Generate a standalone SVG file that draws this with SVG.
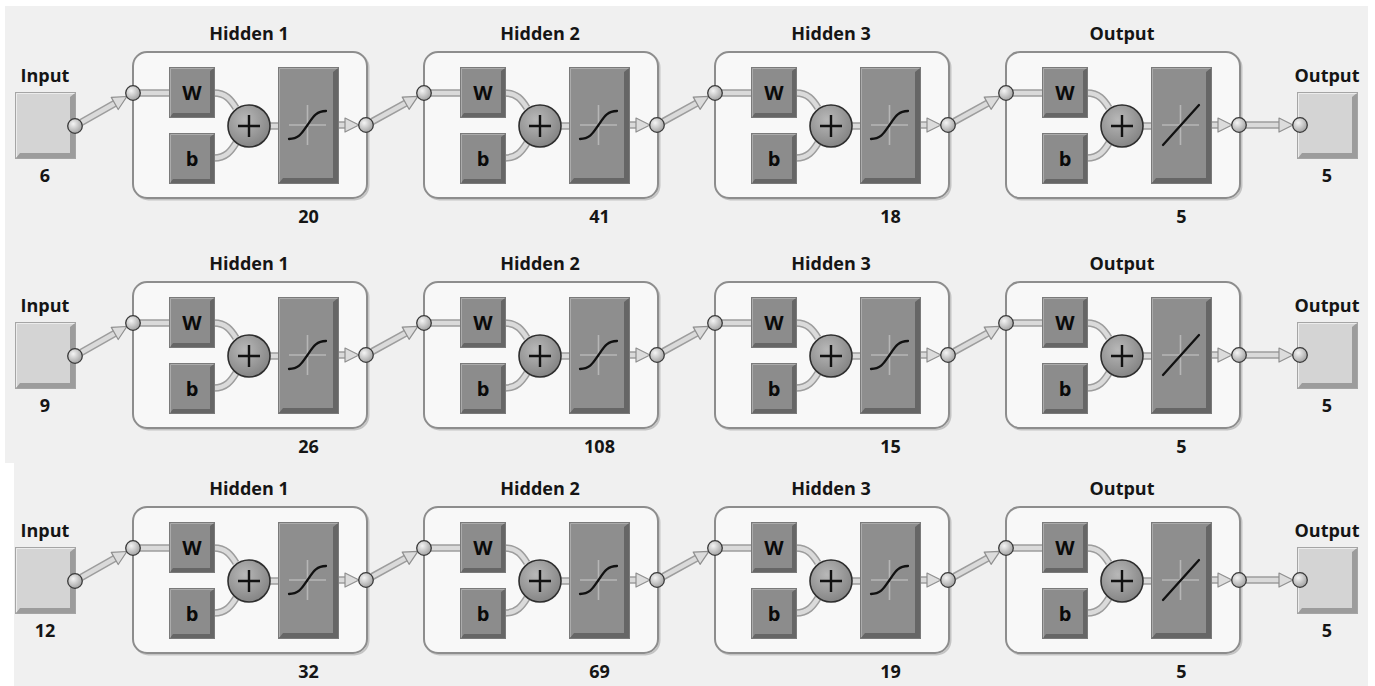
<svg xmlns="http://www.w3.org/2000/svg" width="1375" height="686" viewBox="0 0 1375 686">
<style>
  text{font-family:"Open Sans","Noto Sans","DejaVu Sans",sans-serif;font-weight:700;fill:#151515;text-anchor:middle;font-size:18px}
  .wb{font-size:20px;fill:#0a0a0a}
  .pO{fill:none;stroke:#9d9d9d;stroke-width:7.5}
  .pI{fill:none;stroke:#dadada;stroke-width:4.5}
  .tip{fill:none;stroke:none}
  .cross{stroke:#b6b6b6;stroke-width:1.6}
  .curve{fill:none;stroke:#111;stroke-width:2.3;stroke-linecap:round}
</style>
<defs>
  <radialGradient id="portFill" cx="0.38" cy="0.35" r="0.75">
    <stop offset="0" stop-color="#f4f4f4"/><stop offset="1" stop-color="#999"/>
  </radialGradient>
  <radialGradient id="sumFill" cx="0.4" cy="0.35" r="0.8">
    <stop offset="0" stop-color="#b8b8b8"/><stop offset="1" stop-color="#7a7a7a"/>
  </radialGradient>
  <marker id="ah" markerUnits="userSpaceOnUse" viewBox="0 0 16 16" markerWidth="16" markerHeight="16" refX="15" refY="8" orient="auto">
    <path d="M1,1 L15,8 L1,15 Z" fill="#dcdcdc" stroke="#8f8f8f" stroke-width="1.2" stroke-linejoin="round"/>
  </marker>
  <circle id="port" r="7.3" fill="url(#portFill)" stroke="#3a3a3a" stroke-width="1.3"/>
  <!-- weight / bias block -->
  <g id="wbBox">
    <rect width="44" height="49" fill="#8c8c8c"/>
    <polygon points="44,0 44,49 0,49 3,45 40,45 40,3" fill="#666"/>
    <polyline points="0.5,48.5 0.5,0.5 43.5,0.5" fill="none" stroke="#ababab"/>
    <rect x="-0.5" y="-0.5" width="45" height="50" fill="none" stroke="#7a7a7a"/>
  </g>
  <!-- transfer function block -->
  <g id="tfBox">
    <rect width="59" height="115" fill="#8e8e8e"/>
    <polygon points="59,0 59,115 0,115 4,110 54,110 54,4" fill="#666"/>
    <polyline points="0.5,114 0.5,0.5 58.5,0.5" fill="none" stroke="#ababab"/>
    <rect x="-0.5" y="-0.5" width="60" height="116" fill="none" stroke="#7a7a7a"/>
  </g>
  <!-- input / output terminal -->
  <g id="ioBox">
    <rect width="59" height="65" fill="#d4d4d4"/>
    <polygon points="59,0 59,65 0,65 4,60 54,60 54,4" fill="#9c9c9c"/>
    <polyline points="0.5,64 0.5,0.5 58.5,0.5" fill="none" stroke="#ececec"/>
    <rect x="-0.5" y="-0.5" width="60" height="66" fill="none" stroke="#a5a5a5"/>
  </g>
  <g id="sum">
    <circle r="21" fill="url(#sumFill)" stroke="#2e2e2e" stroke-width="1.6"/>
    <path d="M-11,0 H11 M0,-11 V11" stroke="#111" stroke-width="2.4"/>
  </g>
  <!-- shared layer body: frame, W, b, sum, transfer block and ports -->
  <g id="layerBase">
    <rect x="1.5" y="53.5" width="234" height="146" rx="14" fill="none" stroke="#c4c4c4" stroke-width="2"/>
    <rect x="0" y="52" width="234" height="146" rx="14" fill="#f8f8f8" stroke="#8d8d8d" stroke-width="2"/>
    <path class="pO" d="M0,93 H37 M81,93 C93,93 98,100 103,108 M81,158 C93,158 98,151 103,143 M137,126 H146 M205,125 H218"/>
    <path class="pI" d="M0,93 H37 M81,93 C93,93 98,100 103,108 M81,158 C93,158 98,151 103,143 M137,126 H146 M205,125 H218"/>
    <path class="tip" d="M218,125 H226" marker-end="url(#ah)"/>
    <use href="#wbBox" x="37" y="68"/>
    <use href="#wbBox" x="37" y="134"/>
    <use href="#sum" x="116" y="126"/>
    <use href="#tfBox" x="146" y="68"/>
    <path class="cross" d="M174.5,105 V145 M156,125 H193"/>
    <use href="#port" x="0" y="93"/>
    <use href="#port" x="233" y="125"/>
  </g>
</defs>

<!-- background panels -->
<rect width="1375" height="686" fill="#ffffff"/>
<rect x="5" y="6" width="1363" height="457" fill="#f0f0f0"/>
<rect x="14" y="463" width="1354" height="223" fill="#f0f0f0"/>

<!-- connectors between blocks -->
<g id="connectors">
  <g id="links-row1">
    <path class="pO" d="M81.1,122.5 L119.9,100.5 M372.1,121.6 L410.9,100.3 M663.1,121.6 L701.9,100.3 M954.1,121.6 L992.9,100.3 M1246,125 H1285"/>
    <path class="pI" d="M81.1,122.5 L119.9,100.5 M372.1,121.6 L410.9,100.3 M663.1,121.6 L701.9,100.3 M954.1,121.6 L992.9,100.3 M1246,125 H1285"/>
    <path class="tip" d="M119.9,100.5 L126.9,96.5" marker-end="url(#ah)"/>
    <path class="tip" d="M410.9,100.3 L417.9,96.4" marker-end="url(#ah)"/>
    <path class="tip" d="M701.9,100.3 L708.9,96.4" marker-end="url(#ah)"/>
    <path class="tip" d="M992.9,100.3 L999.9,96.4" marker-end="url(#ah)"/>
    <path class="tip" d="M1285,125 H1293" marker-end="url(#ah)"/>
  </g>
  <g id="links-row2" transform="translate(0,230)">
    <path class="pO" d="M81.1,122.5 L119.9,100.5 M372.1,121.6 L410.9,100.3 M663.1,121.6 L701.9,100.3 M954.1,121.6 L992.9,100.3 M1246,125 H1285"/>
    <path class="pI" d="M81.1,122.5 L119.9,100.5 M372.1,121.6 L410.9,100.3 M663.1,121.6 L701.9,100.3 M954.1,121.6 L992.9,100.3 M1246,125 H1285"/>
    <path class="tip" d="M119.9,100.5 L126.9,96.5" marker-end="url(#ah)"/>
    <path class="tip" d="M410.9,100.3 L417.9,96.4" marker-end="url(#ah)"/>
    <path class="tip" d="M701.9,100.3 L708.9,96.4" marker-end="url(#ah)"/>
    <path class="tip" d="M992.9,100.3 L999.9,96.4" marker-end="url(#ah)"/>
    <path class="tip" d="M1285,125 H1293" marker-end="url(#ah)"/>
  </g>
  <g id="links-row3" transform="translate(0,455)">
    <path class="pO" d="M81.1,122.5 L119.9,100.5 M372.1,121.6 L410.9,100.3 M663.1,121.6 L701.9,100.3 M954.1,121.6 L992.9,100.3 M1246,125 H1285"/>
    <path class="pI" d="M81.1,122.5 L119.9,100.5 M372.1,121.6 L410.9,100.3 M663.1,121.6 L701.9,100.3 M954.1,121.6 L992.9,100.3 M1246,125 H1285"/>
    <path class="tip" d="M119.9,100.5 L126.9,96.5" marker-end="url(#ah)"/>
    <path class="tip" d="M410.9,100.3 L417.9,96.4" marker-end="url(#ah)"/>
    <path class="tip" d="M701.9,100.3 L708.9,96.4" marker-end="url(#ah)"/>
    <path class="tip" d="M992.9,100.3 L999.9,96.4" marker-end="url(#ah)"/>
    <path class="tip" d="M1285,125 H1293" marker-end="url(#ah)"/>
  </g>
</g>

<!-- ===== network 1 ===== -->
<g id="n1-input">
  <text x="45" y="82">Input</text>
  <use href="#ioBox" x="16" y="93"/>
  <use href="#port" x="75" y="126"/>
  <text x="45" y="182">6</text>
</g>
<g id="n1-hidden1" transform="translate(133,0)">
  <use href="#layerBase"/>
  <text x="116" y="40">Hidden 1</text>
  <text class="wb" x="59" y="100">W</text><text class="wb" x="59" y="166">b</text>
  <path class="curve" d="M156,139 C166,139 169,133 174.5,125 S183,111 193,111"/>
  <text x="175.5" y="223">20</text>
</g>
<g id="n1-hidden2" transform="translate(424,0)">
  <use href="#layerBase"/>
  <text x="116" y="40">Hidden 2</text>
  <text class="wb" x="59" y="100">W</text><text class="wb" x="59" y="166">b</text>
  <path class="curve" d="M156,139 C166,139 169,133 174.5,125 S183,111 193,111"/>
  <text x="175.5" y="223">41</text>
</g>
<g id="n1-hidden3" transform="translate(715,0)">
  <use href="#layerBase"/>
  <text x="116" y="40">Hidden 3</text>
  <text class="wb" x="59" y="100">W</text><text class="wb" x="59" y="166">b</text>
  <path class="curve" d="M156,139 C166,139 169,133 174.5,125 S183,111 193,111"/>
  <text x="175.5" y="223">18</text>
</g>
<g id="n1-outlayer" transform="translate(1006,0)">
  <use href="#layerBase"/>
  <text x="116" y="40">Output</text>
  <text class="wb" x="59" y="100">W</text><text class="wb" x="59" y="166">b</text>
  <path class="curve" d="M157,145 L193,105"/>
  <text x="175.5" y="223">5</text>
</g>
<g id="n1-output">
  <text x="1327" y="82">Output</text>
  <use href="#ioBox" x="1298" y="93"/>
  <use href="#port" x="1300" y="125"/>
  <text x="1327" y="182">5</text>
</g>

<!-- ===== network 2 ===== -->
<g id="n2-input" transform="translate(0,230)">
  <text x="45" y="82">Input</text>
  <use href="#ioBox" x="16" y="93"/>
  <use href="#port" x="75" y="126"/>
  <text x="45" y="182">9</text>
</g>
<g id="n2-hidden1" transform="translate(133,230)">
  <use href="#layerBase"/>
  <text x="116" y="40">Hidden 1</text>
  <text class="wb" x="59" y="100">W</text><text class="wb" x="59" y="166">b</text>
  <path class="curve" d="M156,139 C166,139 169,133 174.5,125 S183,111 193,111"/>
  <text x="175.5" y="223">26</text>
</g>
<g id="n2-hidden2" transform="translate(424,230)">
  <use href="#layerBase"/>
  <text x="116" y="40">Hidden 2</text>
  <text class="wb" x="59" y="100">W</text><text class="wb" x="59" y="166">b</text>
  <path class="curve" d="M156,139 C166,139 169,133 174.5,125 S183,111 193,111"/>
  <text x="175.5" y="223">108</text>
</g>
<g id="n2-hidden3" transform="translate(715,230)">
  <use href="#layerBase"/>
  <text x="116" y="40">Hidden 3</text>
  <text class="wb" x="59" y="100">W</text><text class="wb" x="59" y="166">b</text>
  <path class="curve" d="M156,139 C166,139 169,133 174.5,125 S183,111 193,111"/>
  <text x="175.5" y="223">15</text>
</g>
<g id="n2-outlayer" transform="translate(1006,230)">
  <use href="#layerBase"/>
  <text x="116" y="40">Output</text>
  <text class="wb" x="59" y="100">W</text><text class="wb" x="59" y="166">b</text>
  <path class="curve" d="M157,145 L193,105"/>
  <text x="175.5" y="223">5</text>
</g>
<g id="n2-output" transform="translate(0,230)">
  <text x="1327" y="82">Output</text>
  <use href="#ioBox" x="1298" y="93"/>
  <use href="#port" x="1300" y="125"/>
  <text x="1327" y="182">5</text>
</g>

<!-- ===== network 3 ===== -->
<g id="n3-input" transform="translate(0,455)">
  <text x="45" y="82">Input</text>
  <use href="#ioBox" x="16" y="93"/>
  <use href="#port" x="75" y="126"/>
  <text x="45" y="182">12</text>
</g>
<g id="n3-hidden1" transform="translate(133,455)">
  <use href="#layerBase"/>
  <text x="116" y="40">Hidden 1</text>
  <text class="wb" x="59" y="100">W</text><text class="wb" x="59" y="166">b</text>
  <path class="curve" d="M156,139 C166,139 169,133 174.5,125 S183,111 193,111"/>
  <text x="175.5" y="223">32</text>
</g>
<g id="n3-hidden2" transform="translate(424,455)">
  <use href="#layerBase"/>
  <text x="116" y="40">Hidden 2</text>
  <text class="wb" x="59" y="100">W</text><text class="wb" x="59" y="166">b</text>
  <path class="curve" d="M156,139 C166,139 169,133 174.5,125 S183,111 193,111"/>
  <text x="175.5" y="223">69</text>
</g>
<g id="n3-hidden3" transform="translate(715,455)">
  <use href="#layerBase"/>
  <text x="116" y="40">Hidden 3</text>
  <text class="wb" x="59" y="100">W</text><text class="wb" x="59" y="166">b</text>
  <path class="curve" d="M156,139 C166,139 169,133 174.5,125 S183,111 193,111"/>
  <text x="175.5" y="223">19</text>
</g>
<g id="n3-outlayer" transform="translate(1006,455)">
  <use href="#layerBase"/>
  <text x="116" y="40">Output</text>
  <text class="wb" x="59" y="100">W</text><text class="wb" x="59" y="166">b</text>
  <path class="curve" d="M157,145 L193,105"/>
  <text x="175.5" y="223">5</text>
</g>
<g id="n3-output" transform="translate(0,455)">
  <text x="1327" y="82">Output</text>
  <use href="#ioBox" x="1298" y="93"/>
  <use href="#port" x="1300" y="125"/>
  <text x="1327" y="182">5</text>
</g>
</svg>
